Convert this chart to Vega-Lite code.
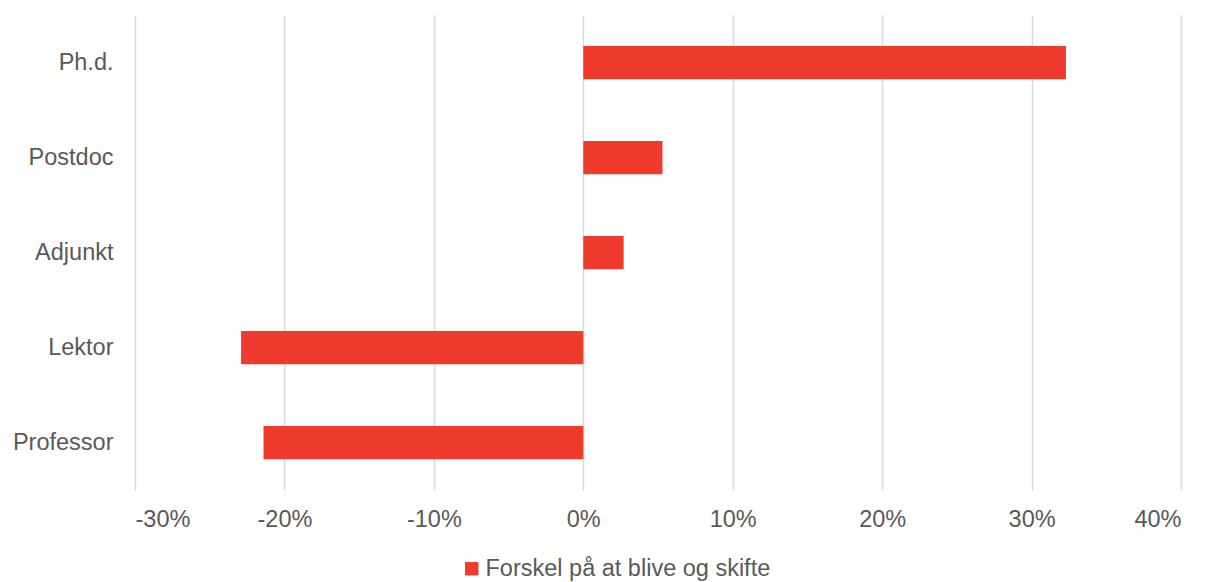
{
  "$schema": "https://vega.github.io/schema/vega-lite/v6.json",
  "width": 1046,
  "height": 475,
  "autosize": {"type": "none"},
  "padding": {"left": 135, "top": 15, "right": 27, "bottom": 92},
  "background": "white",
  "config": {
    "view": {"stroke": null},
    "font": "Liberation Sans",
    "axis": {"labelFont": "Liberation Sans", "labelFontSize": 23.5, "labelColor": "#595959"},
    "legend": {"labelFont": "Liberation Sans", "labelFontSize": 23.5, "labelColor": "#595959"}
  },
  "data": {
    "values": [
      {"stilling": "Ph.d.", "serie": "Forskel på at blive og skifte", "forskel": 0.323},
      {"stilling": "Postdoc", "serie": "Forskel på at blive og skifte", "forskel": 0.053},
      {"stilling": "Adjunkt", "serie": "Forskel på at blive og skifte", "forskel": 0.027},
      {"stilling": "Lektor", "serie": "Forskel på at blive og skifte", "forskel": -0.229},
      {"stilling": "Professor", "serie": "Forskel på at blive og skifte", "forskel": -0.214}
    ]
  },
  "mark": {"type": "bar"},
  "encoding": {
    "y": {
      "field": "stilling",
      "type": "nominal",
      "sort": ["Ph.d.", "Postdoc", "Adjunkt", "Lektor", "Professor"],
      "scale": {"paddingInner": 0.65, "paddingOuter": 0.325},
      "axis": {"title": null, "domain": false, "ticks": false, "labelPadding": 22, "grid": false}
    },
    "x": {
      "field": "forskel",
      "type": "quantitative",
      "scale": {"domain": [-0.3, 0.4], "nice": false},
      "axis": {
        "title": null,
        "format": ".0%",
        "labelExpr": "replace(datum.label, '\u2212', '-')",
        "values": [-0.3, -0.2, -0.1, 0, 0.1, 0.2, 0.3, 0.4],
        "domain": false,
        "ticks": false,
        "grid": true,
        "gridColor": "#d9d9d9",
        "gridWidth": 1.5,
        "labelPadding": 17
      }
    },
    "color": {
      "field": "serie",
      "type": "nominal",
      "scale": {"range": ["#EE3B2E"]},
      "legend": {
        "title": null,
        "orient": "none",
        "legendX": 325,
        "legendY": 542,
        "symbolType": "square",
        "symbolSize": 180,
        "symbolStrokeWidth": 0,
        "labelOffset": 2,
        "labelLimit": 500
      }
    }
  }
}
